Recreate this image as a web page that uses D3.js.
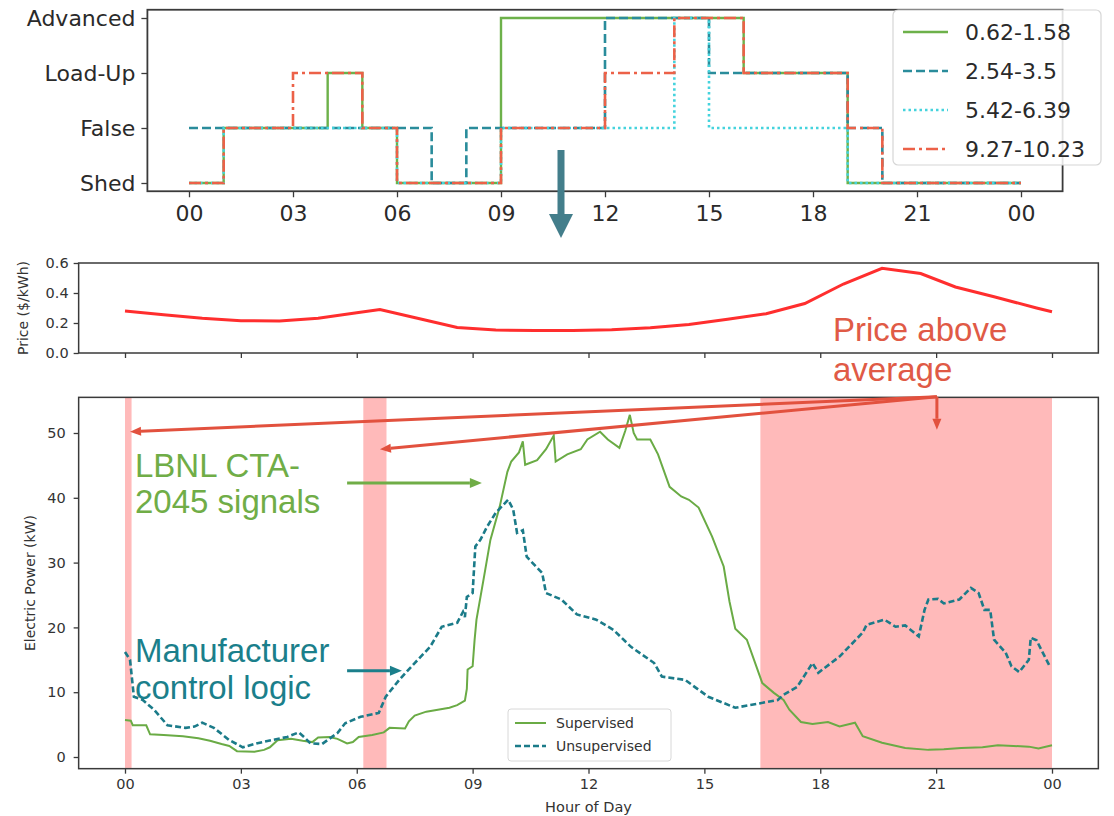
<!DOCTYPE html>
<html>
<head>
<meta charset="utf-8">
<script src="https://cdn.jsdelivr.net/npm/d3@7"></script>
<style>
  body { margin: 0; background: #fff; }
  svg { display: block; }
  text { font-family: "DejaVu Sans", sans-serif; }
</style>
</head>
<body>
<svg id="chart" width="1114" height="816"></svg>
<script>
// ---- top: CTA-2045 signal per hour (0 Shed, 1 False, 2 Load-Up, 3 Advanced)
const levelNames = ["Shed", "False", "Load-Up", "Advanced"];
const stepHours = [0,1,2,3,4,5,6,7,8,9,10,11,12,13,14,15,16,17,18,19,20,21,22,23,24];
const sig062 = [0,1,1,1,2,1,0,0,0,3,3,3,3,3,3,3,2,2,2,0,0,0,0,0,0];
const sig254 = [1,1,1,1,1,1,1,0,1,1,1,1,3,3,3,2,2,2,2,1,0,0,0,0,0];
const sig542 = [0,1,1,1,1,1,0,0,0,1,1,1,1,1,3,1,1,1,1,0,0,0,0,0,0];
const sig927 = [0,1,1,2,2,1,0,0,0,1,1,1,2,2,3,3,2,2,2,1,0,0,0,0,0];
const signalNames = ["0.62-1.58", "2.54-3.5", "5.42-6.39", "9.27-10.23"];

// ---- shared hour ticks
const hourTicks = [0,3,6,9,12,15,18,21,24];
const hourLabels = ["00","03","06","09","12","15","18","21","00"];

// ---- middle: price
const priceHours = [0,1,2,3,4,5,6,6.6,7.6,8.6,9.6,10.6,11.6,12.6,13.6,14.6,15.6,16.6,17.6,18.6,19.6,20.6,21.5,22.5,23.6,24];
const priceVals  = [0.28,0.255,0.232,0.215,0.213,0.232,0.268,0.29,0.23,0.17,0.153,0.15,0.15,0.155,0.168,0.19,0.225,0.262,0.33,0.46,0.565,0.53,0.44,0.375,0.3,0.275];
const priceTicks = [0,0.2,0.4,0.6];

// ---- bottom: electric power
const supHours = [0,0.15,0.2,0.55,0.65,1.0,1.5,1.9,2.2,2.5,2.7,2.9,3.35,3.6,3.75,3.95,4.3,4.6,4.85,5.0,5.3,5.5,5.75,5.9,6.05,6.4,6.7,6.85,7.25,7.35,7.5,7.8,8.1,8.4,8.6,8.8,8.85,8.87,9.0,9.05,9.1,9.3,9.46,9.7,9.9,10.0,10.2,10.3,10.36,10.67,10.9,11.1,11.15,11.45,11.8,11.97,12.3,12.5,12.8,12.95,13.07,13.17,13.26,13.6,13.8,14.1,14.4,14.6,14.85,15.2,15.5,15.65,15.8,16.1,16.35,16.5,16.8,17.05,17.2,17.5,17.8,18.2,18.5,18.9,19.1,19.6,20.2,20.8,21.2,21.65,22.2,22.6,23.0,23.4,23.65,24.0];
const supKW = [5.7,5.6,4.9,4.9,3.5,3.4,3.2,2.9,2.5,2.0,1.7,0.9,0.8,1.1,1.5,2.6,2.8,2.5,2.3,3.0,3.1,2.8,2.1,2.3,3.1,3.4,3.8,4.5,4.4,5.5,6.4,7.0,7.3,7.6,8.0,8.7,10.5,13.5,14,18,21.2,28,33.5,38.6,44,45.6,47,48.7,45.1,45.8,47.5,49.6,45.6,46.7,47.5,49,50.2,49,47.7,50.3,52.8,50,49,49,46.7,41.7,40.2,39.7,38.5,34,29.4,24,19.8,18.1,13.9,11.4,9.9,8.8,7.3,5.4,5.1,5.4,4.7,5.3,3.2,2.2,1.4,1.1,1.2,1.4,1.5,1.8,1.7,1.6,1.3,1.8];
const unsupHours = [0,0.13,0.23,0.46,0.75,1.1,1.57,1.8,2.0,2.3,2.7,3.05,3.4,3.8,4.2,4.5,4.65,4.8,5.1,5.5,5.7,6.1,6.57,6.75,7.1,7.5,7.9,8.2,8.6,8.75,8.8,8.85,9.0,9.07,9.2,9.37,9.6,9.92,10.05,10.15,10.3,10.4,10.8,10.9,11.3,11.7,12.2,12.65,13.1,13.7,13.9,14.5,15.1,15.8,16.45,16.9,17.05,17.4,17.8,17.95,18.5,19.1,19.2,19.66,19.95,20.2,20.55,20.7,20.8,21.05,21.2,21.6,21.9,22.1,22.25,22.4,22.5,22.8,22.95,23.15,23.4,23.45,23.6,23.95];
const unsupKW = [16.2,15.0,9.3,8.8,7.3,4.9,4.5,4.7,5.3,4.5,2.6,1.5,2.1,2.6,3.1,3.8,3.0,2.1,2.0,3.7,5.2,6.2,6.8,9.3,11.9,14.5,17.0,20.1,20.7,22.4,21.6,24.7,25.3,32.5,33.5,35.5,37.7,39.7,38.2,34.6,35.0,30.9,28.4,25.3,24.3,22.0,21.2,19.6,17.0,14.5,12.4,11.9,9.3,7.6,8.3,8.8,9.6,10.8,14.5,13.0,15.5,19.2,20.4,21.2,20.1,20.3,18.6,22.7,24.3,24.4,23.7,24.3,26.1,25.3,22.7,22.7,18.1,16.1,14.0,13.1,15.0,18.4,18.0,13.9];
const powerTicks = [0,10,20,30,40,50];

// hours where price is above average
const spanStart = [0, 6.17, 16.45];
const spanEnd   = [0.17, 6.77, 24];

const svg = d3.select("#chart");
const ink = "#3a3a3a";

function arrow(g, x1, y1, x2, y2, color, w, hl, hw) {
  const a = Math.atan2(y2 - y1, x2 - x1);
  const bx = x2 - hl * Math.cos(a), by = y2 - hl * Math.sin(a);
  g.append("line").attr("x1", x1).attr("y1", y1).attr("x2", bx).attr("y2", by)
    .attr("stroke", color).attr("stroke-width", w);
  const px = -Math.sin(a) * hw / 2, py = Math.cos(a) * hw / 2;
  g.append("polygon")
    .attr("points", [[x2, y2], [bx + px, by + py], [bx - px, by - py]].map(p => p.join(",")).join(" "))
    .attr("fill", color);
}

function tidy(g, fs, col) {
  g.select(".domain").remove();
  g.selectAll(".tick line").attr("stroke", ink).attr("stroke-width", 1.3);
  g.selectAll(".tick text").attr("fill", col || "#333").style("font-size", fs + "px")
    .style("font-family", "DejaVu Sans");
}

// ================= TOP =================
const xTop = d3.scaleLinear().domain([0, 24]).range([189, 1021]);
const yTop = d3.scaleLinear().domain([0, 3]).range([183, 18]);
const topG = svg.append("g");

topG.append("g").attr("transform", `translate(0,${yTop(-0.15)})`)
  .call(d3.axisBottom(xTop).tickValues(hourTicks).tickFormat((d, i) => hourLabels[i]).tickSize(6).tickPadding(8))
  .call(g => tidy(g, 22, "#2a2a2a"));
topG.append("g").attr("transform", `translate(${xTop(-1.2)},0)`)
  .call(d3.axisLeft(yTop).tickValues([0, 1, 2, 3]).tickFormat(d => levelNames[d]).tickSize(6).tickPadding(6))
  .call(g => tidy(g, 22, "#2a2a2a"));

const topSeries = [
  { name: signalNames[0], vals: sig062, color: "#6db14a", dash: null, w: 2.4 },
  { name: signalNames[1], vals: sig254, color: "#2a8c9b", dash: "9,4", w: 2.6 },
  { name: signalNames[2], vals: sig542, color: "#45d3dd", dash: "2.5,3", w: 2.6 },
  { name: signalNames[3], vals: sig927, color: "#ec6148", dash: "12,4,3,4", w: 2.6 }
];
const stepLine = d3.line().x((d, i) => xTop(stepHours[i])).y(d => yTop(d)).curve(d3.curveStepAfter);
topG.selectAll("path.sig").data(topSeries).enter().append("path").classed("sig", true)
  .attr("d", d => stepLine(d.vals))
  .attr("fill", "none")
  .attr("stroke", d => d.color)
  .attr("stroke-width", d => d.w)
  .attr("stroke-dasharray", d => d.dash);

topG.append("rect")
  .attr("x", xTop(-1.2)).attr("y", yTop(3.15))
  .attr("width", xTop(25.2) - xTop(-1.2)).attr("height", yTop(-0.15) - yTop(3.15))
  .attr("fill", "none").attr("stroke", ink).attr("stroke-width", 1.8);

// top legend
const lg = topG.append("g");
lg.append("rect").attr("x", 893).attr("y", 10).attr("width", 208).attr("height", 155).attr("rx", 5)
  .attr("fill", "#fff").attr("fill-opacity", 0.85).attr("stroke", "#d6d6d6").attr("stroke-width", 1.2);
topSeries.forEach((s, i) => {
  const yy = 32 + i * 39;
  lg.append("line").attr("x1", 903).attr("x2", 948).attr("y1", yy).attr("y2", yy)
    .attr("stroke", s.color).attr("stroke-width", s.w).attr("stroke-dasharray", s.dash);
  lg.append("text").attr("x", 965).attr("y", yy + 8).text(s.name)
    .style("font-size", "22px").attr("fill", "#2a2a2a");
});

// connecting arrow
svg.append("rect").attr("x", 557.5).attr("y", 150).attr("width", 7).attr("height", 68).attr("fill", "#437e8b");
svg.append("polygon").attr("points", "549,214 573,214 561,238").attr("fill", "#437e8b");

// ================= PRICE =================
const xBot = d3.scaleLinear().domain([0, 24]).range([125, 1052]);
const yPrice = d3.scaleLinear().domain([0, 0.6]).range([353, 263]);
const mid = svg.append("g");

mid.append("g").attr("transform", `translate(0,${yPrice(0)})`)
  .call(d3.axisBottom(xBot).tickValues(hourTicks).tickFormat("").tickSize(5))
  .call(g => tidy(g, 14.5));
mid.append("g").attr("transform", `translate(${xBot(-1.2)},0)`)
  .call(d3.axisLeft(yPrice).tickValues(priceTicks).tickFormat(d3.format(".1f")).tickSize(5).tickPadding(5))
  .call(g => tidy(g, 14.5));

mid.append("path")
  .datum(priceVals)
  .attr("d", d3.line().x((d, i) => xBot(priceHours[i])).y(d => yPrice(d)))
  .attr("fill", "none").attr("stroke", "#ff2e2e").attr("stroke-width", 3);

mid.append("rect")
  .attr("x", xBot(-1.2)).attr("y", yPrice(0.6))
  .attr("width", xBot(25.2) - xBot(-1.2)).attr("height", yPrice(0) - yPrice(0.6))
  .attr("fill", "none").attr("stroke", ink).attr("stroke-width", 1.5);

mid.append("text")
  .attr("transform", `translate(28,${(yPrice(0) + yPrice(0.6)) / 2}) rotate(-90)`)
  .attr("text-anchor", "middle").style("font-size", "14px").attr("fill", "#333")
  .text("Price ($/kWh)");

// ================= POWER =================
const yPow = d3.scaleLinear().domain([0, 50]).range([757, 433]);
const bot = svg.append("g");

bot.selectAll("rect.span").data(spanStart).enter().append("rect").classed("span", true)
  .attr("x", d => xBot(d))
  .attr("width", (d, i) => xBot(spanEnd[i]) - xBot(d))
  .attr("y", yPow(55.5)).attr("height", yPow(-1.8) - yPow(55.5))
  .attr("fill", "#ffbaba");

bot.append("g").attr("transform", `translate(0,${yPow(-1.8)})`)
  .call(d3.axisBottom(xBot).tickValues(hourTicks).tickFormat((d, i) => hourLabels[i]).tickSize(5).tickPadding(5))
  .call(g => tidy(g, 14.5));
bot.append("g").attr("transform", `translate(${xBot(-1.2)},0)`)
  .call(d3.axisLeft(yPow).tickValues(powerTicks).tickSize(5).tickPadding(8))
  .call(g => tidy(g, 14.5));

bot.append("path")
  .datum(supKW)
  .attr("d", d3.line().x((d, i) => xBot(supHours[i])).y(d => yPow(d)))
  .attr("fill", "none").attr("stroke", "#6aab45").attr("stroke-width", 2);
bot.append("path")
  .datum(unsupKW)
  .attr("d", d3.line().x((d, i) => xBot(unsupHours[i])).y(d => yPow(d)))
  .attr("fill", "none").attr("stroke", "#1b7b89").attr("stroke-width", 2.6)
  .attr("stroke-dasharray", "6,3");

bot.append("rect")
  .attr("x", xBot(-1.2)).attr("y", yPow(55.5))
  .attr("width", xBot(25.2) - xBot(-1.2)).attr("height", yPow(-1.8) - yPow(55.5))
  .attr("fill", "none").attr("stroke", ink).attr("stroke-width", 1.5);

bot.append("text")
  .attr("transform", `translate(35,${(yPow(55.5) + yPow(-1.8)) / 2}) rotate(-90)`)
  .attr("text-anchor", "middle").style("font-size", "14px").attr("fill", "#333")
  .text("Electric Power (kW)");
bot.append("text").attr("x", xBot(12)).attr("y", 812).attr("text-anchor", "middle")
  .style("font-size", "14.5px").attr("fill", "#333").text("Hour of Day");

// bottom legend
const lg2 = bot.append("g");
lg2.append("rect").attr("x", 508).attr("y", 709).attr("width", 163).attr("height", 52).attr("rx", 3)
  .attr("fill", "#fff").attr("fill-opacity", 0.85).attr("stroke", "#d8d8d8");
[["Supervised", "#6aab45", null, 2], ["Unsupervised", "#1b7b89", "6,3", 2.6]].forEach((s, i) => {
  const yy = 723 + i * 23;
  lg2.append("line").attr("x1", 515).attr("x2", 546).attr("y1", yy).attr("y2", yy)
    .attr("stroke", s[1]).attr("stroke-width", s[3]).attr("stroke-dasharray", s[2]);
  lg2.append("text").attr("x", 556).attr("y", yy + 5).text(s[0])
    .style("font-size", "14px").attr("fill", "#333");
});

// ================= ANNOTATIONS =================
const ann = svg.append("g");
const redA = "#e2513e", greenA = "#70ad47", tealA = "#1b7f8b";
const annFont = "'Liberation Sans', Arial, sans-serif";

function label(x, y, color, txt) {
  ann.append("text").attr("x", x).attr("y", y).attr("fill", color)
    .style("font-size", "33px").style("font-family", annFont).text(txt);
}

label(833, 341, "#e05a46", "Price above");
label(833, 381, "#e05a46", "average");

const ox = xBot(21.02), oy = yPow(55.6);
arrow(ann, ox, oy, xBot(0.13), yPow(50.2), redA, 3, 11, 9);
arrow(ann, ox, oy, xBot(6.6), yPow(47.5), redA, 3, 11, 9);
arrow(ann, ox, oy, xBot(21.02), yPow(50.5), redA, 3, 11, 9);

label(135, 477, greenA, "LBNL CTA-");
label(135, 513, greenA, "2045 signals");
arrow(ann, xBot(5.75), yPow(42.3), xBot(9.24), yPow(42.3), greenA, 3, 12, 10);

label(135, 662, tealA, "Manufacturer");
label(135, 699, tealA, "control logic");
arrow(ann, xBot(5.75), yPow(13.3), xBot(7.17), yPow(13.3), tealA, 3, 12, 10);
</script>
</body>
</html>
